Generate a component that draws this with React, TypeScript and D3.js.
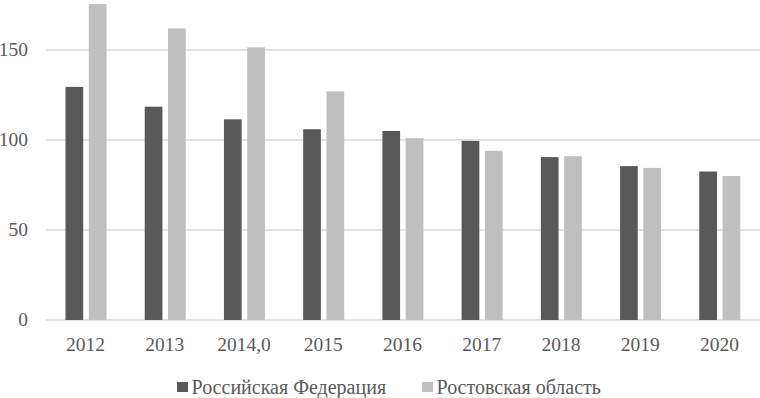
import React from "react";
import * as d3 from "d3";

const years = ["2012", "2013", "2014,0", "2015", "2016", "2017", "2018", "2019", "2020"];
const russia = [129.5, 118.5, 111.5, 106, 105, 99.5, 90.5, 85.5, 82.5];
const rostov = [175.5, 162, 151.5, 127, 101, 94, 91, 84.5, 80];
const seriesNames = ["Российская Федерация", "Ростовская область"];
const seriesColors = ["#595959", "#bfbfbf"];
const yTicks = [0, 50, 100, 150];

const width = 760;
const height = 398;
const font = "Liberation Serif";
const textColor = "#595959";

const x = d3.scaleBand().domain(years).range([46, 759]);
const inner = d3.scaleBand().domain(seriesNames).range([19.5, 60.5]).paddingInner(0.24);
const y = d3.scaleLinear().domain([0, 150]).range([320, 50]);

const App = () => {
  const series = [russia, rostov];
  const legendX = [177, 422];
  return (
    <svg
      width={width}
      height={height}
      style={{ position: "absolute", left: 0, top: 0, background: "#fff" }}
    >
      {/* gridlines */}
      {yTicks.map((t) => (
        <line key={"g" + t} x1={46} x2={760} y1={y(t)} y2={y(t)} stroke="#d9d9d9" strokeWidth={1.5} />
      ))}
      {yTicks.map((t) => (
        <text
          key={"t" + t}
          x={28}
          y={y(t)}
          dy="0.33em"
          textAnchor="end"
          fontFamily={font}
          fontSize={19.5}
          fill={textColor}
        >
          {t}
        </text>
      ))}
      {series.map((vals, s) =>
        vals.map((v, i) => (
          <rect
            key={s + "-" + i}
            x={(x(years[i]) as number) + (inner(seriesNames[s]) as number)}
            width={inner.bandwidth()}
            y={y(v)}
            height={y(0) - y(v)}
            fill={seriesColors[s]}
          />
        ))
      )}
      {years.map((yr) => (
        <text
          key={yr}
          x={(x(yr) as number) + x.bandwidth() / 2}
          y={345}
          dy="0.33em"
          textAnchor="middle"
          fontFamily={font}
          fontSize={19.5}
          fill={textColor}
        >
          {yr}
        </text>
      ))}
      {seriesNames.map((name, i) => (
        <g key={name} transform={`translate(${legendX[i]}, 387)`}>
          <rect x={0} y={-5} width={11} height={10} fill={seriesColors[i]} />
          <text x={14.5} y={0} dy="0.33em" fontFamily={font} fontSize={20} fill={textColor}>
            {name}
          </text>
        </g>
      ))}
    </svg>
  );
};

export default App;
